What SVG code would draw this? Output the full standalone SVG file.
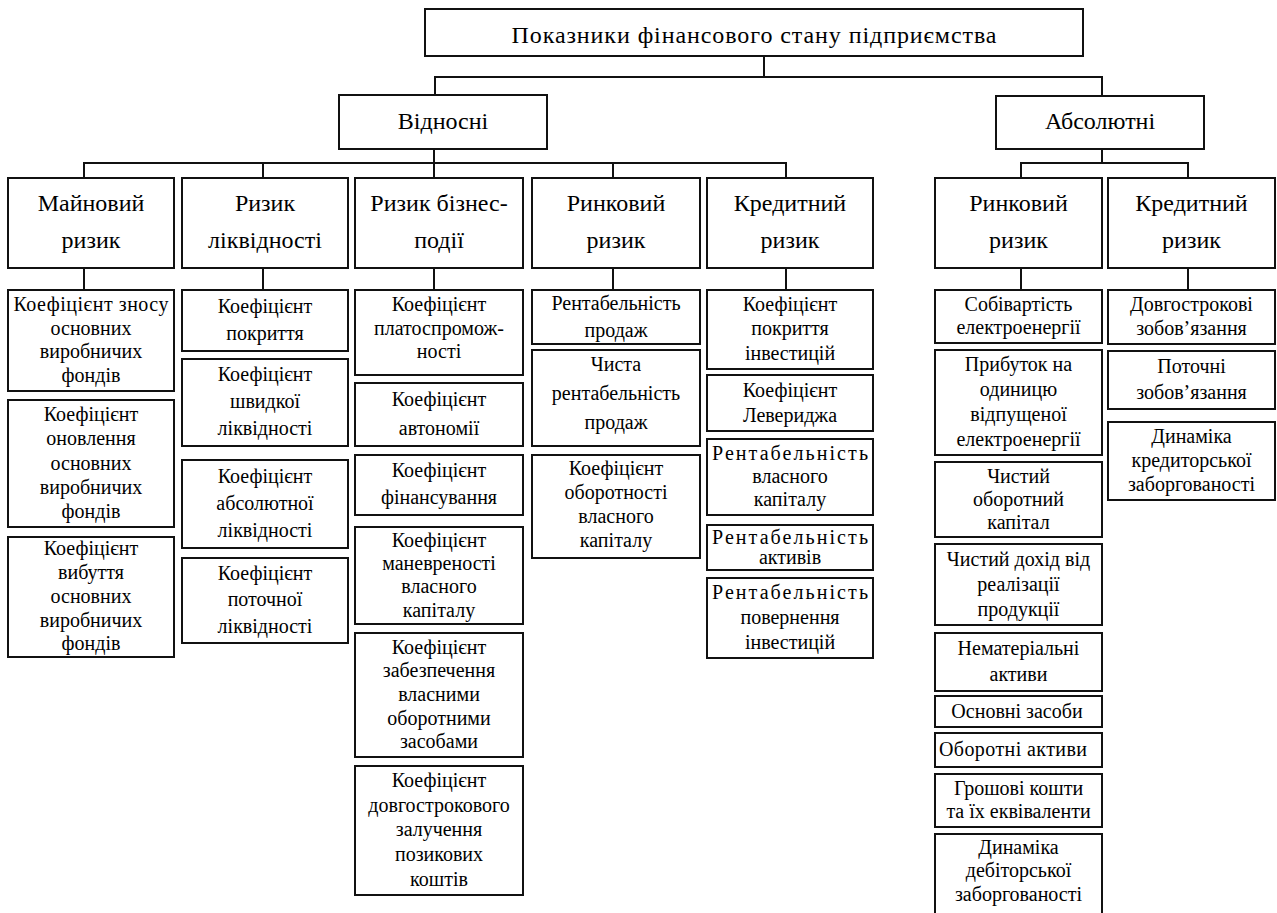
<svg xmlns="http://www.w3.org/2000/svg" width="1277" height="913" viewBox="0 0 1277 913" font-family="Liberation Serif, DejaVu Serif, serif">
<style>
.box{fill:#fff;stroke:#111;stroke-width:2}
.conn line{stroke:#111;stroke-width:2}
text{fill:#000;text-anchor:middle}
.t1{font-size:24px}
.hd{font-size:24px}
.lf{font-size:20px}
</style>
<rect width="1277" height="913" fill="#fff"/>
<g id="connectors" class="conn">
<line x1="764" y1="56" x2="764" y2="77"/>
<line x1="434" y1="77" x2="1103" y2="77"/>
<line x1="435" y1="77" x2="435" y2="95"/>
<line x1="1102" y1="77" x2="1102" y2="96"/>
<line x1="434" y1="149" x2="434" y2="163"/>
<line x1="83" y1="163" x2="787" y2="163"/>
<line x1="84" y1="163" x2="84" y2="178"/>
<line x1="263" y1="163" x2="263" y2="178"/>
<line x1="434" y1="163" x2="434" y2="178"/>
<line x1="613" y1="163" x2="613" y2="178"/>
<line x1="786" y1="163" x2="786" y2="178"/>
<line x1="1102" y1="149" x2="1102" y2="163"/>
<line x1="1020" y1="163" x2="1189" y2="163"/>
<line x1="1021" y1="163" x2="1021" y2="178"/>
<line x1="1188" y1="163" x2="1188" y2="178"/>
<line x1="84" y1="268" x2="84" y2="290"/>
<line x1="263" y1="268" x2="263" y2="290"/>
<line x1="434" y1="268" x2="434" y2="290"/>
<line x1="613" y1="268" x2="613" y2="290"/>
<line x1="786" y1="268" x2="786" y2="290"/>
<line x1="1021" y1="268" x2="1021" y2="290"/>
<line x1="1188" y1="268" x2="1188" y2="290"/>
</g>
<g id="root"><rect class="box" x="425" y="9" width="658" height="47"/><text class="t1" x="754" y="43" textLength="485" lengthAdjust="spacing">Показники фінансового стану підприємства</text></g>
<g id="vidnosni"><rect class="box" x="339" y="95" width="208" height="54"/><text class="hd" x="443" y="129">Відносні</text></g>
<g id="absolutni"><rect class="box" x="996" y="96" width="208" height="53"/><text class="hd" x="1100" y="129">Абсолютні</text></g>

<g id="h-mainovyi"><rect class="box" x="8" y="178" width="166" height="90"/><text class="hd" x="91" y="211">Майновий</text><text class="hd" x="91" y="248">ризик</text></g>
<g id="h-likvidnist"><rect class="box" x="182" y="178" width="166" height="90"/><text class="hd" x="265" y="211">Ризик</text><text class="hd" x="265" y="248">ліквідності</text></g>
<g id="h-biznes"><rect class="box" x="355" y="178" width="168" height="90"/><text class="hd" x="439" y="211">Ризик бізнес-</text><text class="hd" x="439" y="248">події</text></g>
<g id="h-rynkovyi"><rect class="box" x="532" y="178" width="168" height="90"/><text class="hd" x="616" y="211">Ринковий</text><text class="hd" x="616" y="248">ризик</text></g>
<g id="h-kredytnyi"><rect class="box" x="707" y="178" width="166" height="90"/><text class="hd" x="790" y="211">Кредитний</text><text class="hd" x="790" y="248">ризик</text></g>
<g id="h-abs-rynkovyi"><rect class="box" x="935" y="178" width="167" height="90"/><text class="hd" x="1018.5" y="211">Ринковий</text><text class="hd" x="1018.5" y="248">ризик</text></g>
<g id="h-abs-kredytnyi"><rect class="box" x="1108" y="178" width="167" height="90"/><text class="hd" x="1191.5" y="211">Кредитний</text><text class="hd" x="1191.5" y="248">ризик</text></g>

<g id="m1"><rect class="box" x="8" y="290" width="166" height="101"/><text class="lf" x="91" y="311" textLength="155" lengthAdjust="spacing">Коефіцієнт зносу</text><text class="lf" x="91" y="335">основних</text><text class="lf" x="91" y="358">виробничих</text><text class="lf" x="91" y="382">фондів</text></g>
<g id="m2"><rect class="box" x="8" y="400" width="166" height="127"/><text class="lf" x="91" y="421">Коефіцієнт</text><text class="lf" x="91" y="445">оновлення</text><text class="lf" x="91" y="470">основних</text><text class="lf" x="91" y="494">виробничих</text><text class="lf" x="91" y="518">фондів</text></g>
<g id="m3"><rect class="box" x="8" y="537" width="166" height="120"/><text class="lf" x="91" y="555">Коефіцієнт</text><text class="lf" x="91" y="579">вибуття</text><text class="lf" x="91" y="603">основних</text><text class="lf" x="91" y="627">виробничих</text><text class="lf" x="91" y="650">фондів</text></g>

<g id="l1"><rect class="box" x="182" y="290" width="166" height="61"/><text class="lf" x="265" y="313">Коефіцієнт</text><text class="lf" x="265" y="340">покриття</text></g>
<g id="l2"><rect class="box" x="182" y="359" width="166" height="87"/><text class="lf" x="265" y="381">Коефіцієнт</text><text class="lf" x="265" y="408">швидкої</text><text class="lf" x="265" y="435">ліквідності</text></g>
<g id="l3"><rect class="box" x="182" y="460" width="166" height="88"/><text class="lf" x="265" y="483">Коефіцієнт</text><text class="lf" x="265" y="510">абсолютної</text><text class="lf" x="265" y="537">ліквідності</text></g>
<g id="l4"><rect class="box" x="182" y="558" width="166" height="85"/><text class="lf" x="265" y="580">Коефіцієнт</text><text class="lf" x="265" y="606">поточної</text><text class="lf" x="265" y="633">ліквідності</text></g>

<g id="b1"><rect class="box" x="355" y="290" width="168" height="85"/><text class="lf" x="439" y="311">Коефіцієнт</text><text class="lf" x="439" y="335">платоспромож-</text><text class="lf" x="439" y="358">ності</text></g>
<g id="b2"><rect class="box" x="355" y="383" width="168" height="63"/><text class="lf" x="439" y="406">Коефіцієнт</text><text class="lf" x="439" y="435">автономії</text></g>
<g id="b3"><rect class="box" x="355" y="455" width="168" height="60"/><text class="lf" x="439" y="477">Коефіцієнт</text><text class="lf" x="439" y="504">фінансування</text></g>
<g id="b4"><rect class="box" x="355" y="527" width="168" height="97"/><text class="lf" x="439" y="547">Коефіцієнт</text><text class="lf" x="439" y="570">маневреності</text><text class="lf" x="439" y="593">власного</text><text class="lf" x="439" y="617">капіталу</text></g>
<g id="b5"><rect class="box" x="355" y="633" width="168" height="124"/><text class="lf" x="439" y="654">Коефіцієнт</text><text class="lf" x="439" y="677">забезпечення</text><text class="lf" x="439" y="701">власними</text><text class="lf" x="439" y="725">оборотними</text><text class="lf" x="439" y="748">засобами</text></g>
<g id="b6"><rect class="box" x="355" y="766" width="168" height="129"/><text class="lf" x="439" y="787">Коефіцієнт</text><text class="lf" x="439" y="812">довгострокового</text><text class="lf" x="439" y="836">залучення</text><text class="lf" x="439" y="861">позикових</text><text class="lf" x="439" y="886">коштів</text></g>

<g id="r1"><rect class="box" x="532" y="290" width="168" height="54"/><text class="lf" x="616" y="310">Рентабельність</text><text class="lf" x="616" y="337">продаж</text></g>
<g id="r2"><rect class="box" x="532" y="350" width="168" height="96"/><text class="lf" x="616" y="371">Чиста</text><text class="lf" x="616" y="400">рентабельність</text><text class="lf" x="616" y="429">продаж</text></g>
<g id="r3"><rect class="box" x="532" y="455" width="168" height="103"/><text class="lf" x="616" y="475">Коефіцієнт</text><text class="lf" x="616" y="499">оборотності</text><text class="lf" x="616" y="523">власного</text><text class="lf" x="616" y="547">капіталу</text></g>

<g id="k1"><rect class="box" x="707" y="290" width="166" height="79"/><text class="lf" x="790" y="311">Коефіцієнт</text><text class="lf" x="790" y="335">покриття</text><text class="lf" x="790" y="360">інвестицій</text></g>
<g id="k2"><rect class="box" x="707" y="375" width="166" height="56"/><text class="lf" x="790" y="397">Коефіцієнт</text><text class="lf" x="790" y="422">Левериджа</text></g>
<g id="k3"><rect class="box" x="707" y="439" width="166" height="76"/><text class="lf" x="790" y="460" textLength="156" lengthAdjust="spacing">Рентабельність</text><text class="lf" x="790" y="483">власного</text><text class="lf" x="790" y="506">капіталу</text></g>
<g id="k4"><rect class="box" x="707" y="525" width="166" height="45"/><text class="lf" x="790" y="544" textLength="156" lengthAdjust="spacing">Рентабельність</text><text class="lf" x="790" y="564">активів</text></g>
<g id="k5"><rect class="box" x="707" y="578" width="166" height="80"/><text class="lf" x="790" y="599" textLength="156" lengthAdjust="spacing">Рентабельність</text><text class="lf" x="790" y="624">повернення</text><text class="lf" x="790" y="649">інвестицій</text></g>

<g id="ar1"><rect class="box" x="935" y="290" width="167" height="53"/><text class="lf" x="1018.5" y="311">Собівартість</text><text class="lf" x="1018.5" y="334">електроенергії</text></g>
<g id="ar2"><rect class="box" x="935" y="350" width="167" height="105"/><text class="lf" x="1018.5" y="371">Прибуток на</text><text class="lf" x="1018.5" y="396">одиницю</text><text class="lf" x="1018.5" y="421">відпущеної</text><text class="lf" x="1018.5" y="446">електроенергії</text></g>
<g id="ar3"><rect class="box" x="935" y="462" width="167" height="75"/><text class="lf" x="1018.5" y="483">Чистий</text><text class="lf" x="1018.5" y="506">оборотний</text><text class="lf" x="1018.5" y="529">капітал</text></g>
<g id="ar4"><rect class="box" x="935" y="544" width="167" height="81"/><text class="lf" x="1018.5" y="566">Чистий дохід від</text><text class="lf" x="1018.5" y="591">реалізації</text><text class="lf" x="1018.5" y="616">продукції</text></g>
<g id="ar5"><rect class="box" x="935" y="633" width="167" height="58"/><text class="lf" x="1018.5" y="655">Нематеріальні</text><text class="lf" x="1018.5" y="681">активи</text></g>
<g id="ar6"><rect class="box" x="935" y="696" width="167" height="31"/><text class="lf" x="1017" y="718">Основні засоби</text></g>
<g id="ar7"><rect class="box" x="935" y="733" width="167" height="34"/><text class="lf" x="1013" y="756" textLength="148" lengthAdjust="spacing">Оборотні активи</text></g>
<g id="ar8"><rect class="box" x="935" y="774" width="167" height="53"/><text class="lf" x="1018.5" y="795">Грошові кошти</text><text class="lf" x="1018.5" y="818">та їх еквіваленти</text></g>
<g id="ar9"><rect class="box" x="935" y="834" width="167" height="90"/><text class="lf" x="1018.5" y="854">Динаміка</text><text class="lf" x="1018.5" y="877">дебіторської</text><text class="lf" x="1018.5" y="901">заборгованості</text></g>

<g id="ak1"><rect class="box" x="1108" y="290" width="167" height="54"/><text class="lf" x="1191.5" y="311">Довгострокові</text><text class="lf" x="1191.5" y="335">зобов’язання</text></g>
<g id="ak2"><rect class="box" x="1108" y="351" width="167" height="58"/><text class="lf" x="1191.5" y="373">Поточні</text><text class="lf" x="1191.5" y="399">зобов’язання</text></g>
<g id="ak3"><rect class="box" x="1108" y="422" width="167" height="78"/><text class="lf" x="1191.5" y="443">Динаміка</text><text class="lf" x="1191.5" y="467">кредиторської</text><text class="lf" x="1191.5" y="491">заборгованості</text></g>
</svg>
